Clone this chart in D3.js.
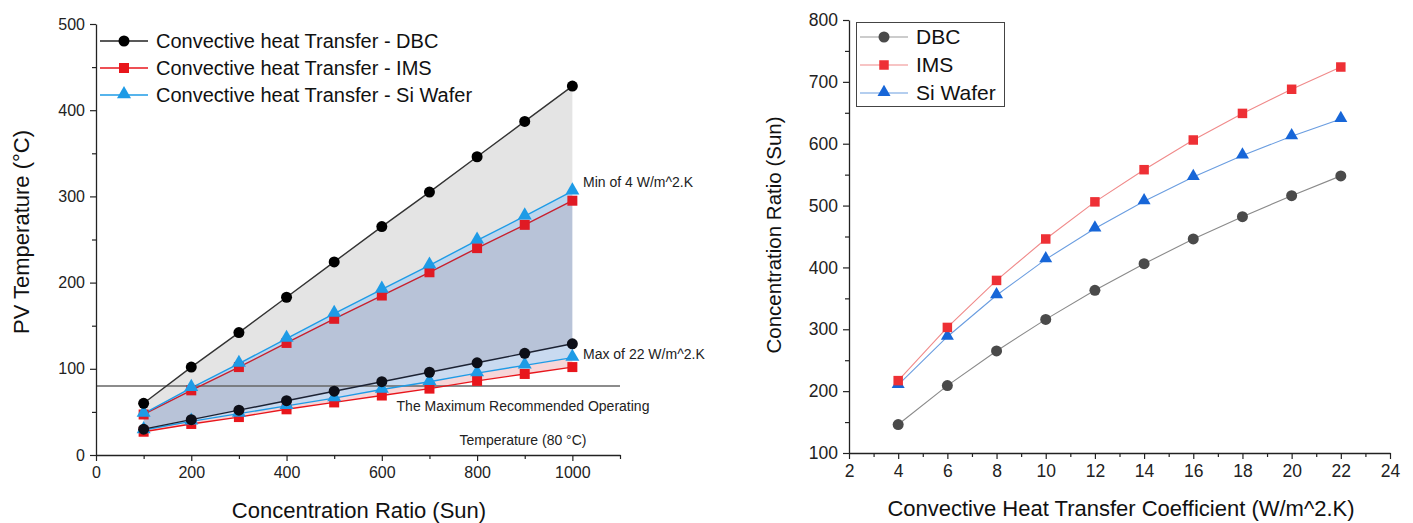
<!DOCTYPE html>
<html>
<head>
<meta charset="utf-8">
<script src="https://cdn.jsdelivr.net/npm/d3@7"></script>
<style>
  html, body { margin: 0; padding: 0; background: #fff; }
  svg { display: block; font-family: "Liberation Sans", Arial, sans-serif; }
  .narrow { font-family: "Liberation Sans Narrow", "Arial Narrow", "Liberation Sans", sans-serif; }
</style>
</head>
<body>
<svg id="chart" width="1413" height="523"></svg>
<script>
// ---- Left panel: PV temperature vs concentration ratio ----
const concentration = [100, 200, 300, 400, 500, 600, 700, 800, 900, 1000];
// h = 4 W/m^2.K (upper group)
const dbcMin = [60, 102, 142, 183, 224, 265, 305, 346, 387, 428];
const imsMin = [47, 75, 102, 130, 158, 185, 212, 240, 267, 295];
const siMin  = [48, 78, 106, 135, 164, 192, 220, 249, 277, 306];
// h = 22 W/m^2.K (lower group)
const dbcMax = [30, 41, 52, 63, 74, 85, 96, 107, 118, 129];
const imsMax = [27, 36, 44, 53, 61, 69, 77, 86, 94, 102];
const siMax  = [29, 39, 48, 57, 66, 76, 85, 95, 104, 113];
const limitTemp = 80;
const leftXTicks = [0, 200, 400, 600, 800, 1000];
const leftYTicks = [0, 100, 200, 300, 400, 500];
const leftLegend = ["Convective heat Transfer - DBC", "Convective heat Transfer - IMS", "Convective heat Transfer - Si Wafer"];

// ---- Right panel: concentration ratio vs convective coefficient ----
const coefficient = [4, 6, 8, 10, 12, 14, 16, 18, 20, 22];
const crDBC = [146, 209, 265, 316, 363, 406, 446, 482, 516, 548];
const crIMS = [217, 303, 379, 446, 506, 558, 606, 649, 688, 724];
const crSi  = [210, 288, 355, 413, 463, 507, 546, 581, 612, 640];
const rightXTicks = [2, 4, 6, 8, 10, 12, 14, 16, 18, 20, 22, 24];
const rightYTicks = [100, 200, 300, 400, 500, 600, 700, 800];
const rightLegend = ["DBC", "IMS", "Si Wafer"];

const svg = d3.select("#chart");

// symbol helper: size is the marker's width in px
function marker(g, shape, x, y, size, fill) {
  const type = shape === "circle" ? d3.symbolCircle : shape === "square" ? d3.symbolSquare : d3.symbolTriangle;
  const area = shape === "circle" ? 0.785 : shape === "triangle" ? 0.433 : 1;
  const dy = shape === "triangle" ? -size * 0.06 : 0;
  g.append("path")
    .attr("d", d3.symbol().type(type).size(size * size * area)())
    .attr("transform", `translate(${x},${y + dy})`)
    .attr("fill", fill);
}

function drawAxes(g, x, y, xMajor, xMinor, yMajor, yMinor, fontSize) {
  const [x0] = x.range();
  const [y0] = y.range();
  const fmt = d3.format("d");
  const xa = g.append("g").attr("transform", `translate(0,${y0})`)
    .call(d3.axisBottom(x).tickValues(xMajor).tickFormat(fmt).tickSize(6).tickSizeOuter(0).tickPadding(6));
  g.append("g").attr("transform", `translate(0,${y0})`)
    .call(d3.axisBottom(x).tickValues(xMinor).tickSize(4).tickSizeOuter(0).tickFormat(""))
    .call(s => s.select(".domain").remove());
  const ya = g.append("g").attr("transform", `translate(${x0},0)`)
    .call(d3.axisLeft(y).tickValues(yMajor).tickFormat(fmt).tickSize(6).tickSizeOuter(0).tickPadding(5));
  g.append("g").attr("transform", `translate(${x0},0)`)
    .call(d3.axisLeft(y).tickValues(yMinor).tickSize(4).tickSizeOuter(0).tickFormat(""))
    .call(s => s.select(".domain").remove());
  [xa, ya].forEach(a => {
    a.selectAll("text").attr("font-size", fontSize).attr("fill", "#222").attr("font-family", "Liberation Sans, Arial, sans-serif");
  });
  g.selectAll(".domain").attr("stroke", "#222").attr("stroke-width", 1.3);
  g.selectAll(".tick line").attr("stroke", "#222").attr("stroke-width", 1.2);
}

// ================= Left panel =================
{
  const g = svg.append("g");
  const x = d3.scaleLinear().domain([0, 1100]).range([96, 620]);
  const y = d3.scaleLinear().domain([0, 500]).range([455, 24]);

  const band = (top, bottom, fill) => {
    const area = d3.area()
      .x((d, i) => x(concentration[i]))
      .y0((d, i) => y(bottom[i]))
      .y1((d, i) => y(top[i]));
    g.append("path").datum(top).attr("d", area).attr("fill", fill);
  };
  band(dbcMin, siMin, "#e4e4e4");
  band(siMin, imsMin, "#bcd6ee");
  band(imsMin, dbcMax, "#b8c3d8");
  band(dbcMax, siMax, "#c9daf0");
  band(siMax, imsMax, "#f7d6d8");

  // 80 °C limit line
  g.append("line")
    .attr("x1", x(0)).attr("x2", x(1100))
    .attr("y1", y(limitTemp)).attr("y2", y(limitTemp))
    .attr("stroke", "#666").attr("stroke-width", 1.5);

  drawAxes(g, x, y, leftXTicks, [100, 300, 500, 700, 900, 1100], leftYTicks, [50, 150, 250, 350, 450], 16);

  const line = d3.line().x((d, i) => x(concentration[i])).y(d => y(d));
  const series = [
    { v: imsMax, color: "#e8161c", mfill: "#e8161c", shape: "square" },
    { v: siMax, color: "#1e9be6", mfill: "#1e9be6", shape: "triangle" },
    { v: dbcMax, color: "#1c2233", mfill: "#0d0f18", shape: "circle" },
    { v: imsMin, color: "#c8202e", mfill: "#e01a24", shape: "square" },
    { v: siMin, color: "#1e9be6", mfill: "#1e9be6", shape: "triangle" },
    { v: dbcMin, color: "#333333", mfill: "#000000", shape: "circle" }
  ];
  series.forEach(s => {
    g.append("path").datum(s.v).attr("d", line).attr("fill", "none")
      .attr("stroke", s.color).attr("stroke-width", 1.4);
  });
  series.forEach(s => {
    s.v.forEach((d, i) => marker(g, s.shape, x(concentration[i]), y(d), s.shape === "circle" ? 11 : s.shape === "square" ? 10 : 14, s.mfill));
  });

  // legend
  const leg = [
    { c: "#222", f: "#000", shape: "circle" },
    { c: "#e8161c", f: "#e8161c", shape: "square" },
    { c: "#1e9be6", f: "#1e9be6", shape: "triangle" }
  ];
  leg.forEach((l, i) => {
    const yy = 41 + i * 27;
    g.append("line").attr("x1", 100).attr("x2", 148).attr("y1", yy).attr("y2", yy)
      .attr("stroke", l.c).attr("stroke-width", 1.4);
    marker(g, l.shape, 124, yy, l.shape === "circle" ? 11 : l.shape === "square" ? 10 : 14, l.f);
    g.append("text").attr("x", 156).attr("y", yy + 7).attr("font-size", 20).attr("fill", "#111")
      .text(leftLegend[i]);
  });

  // annotations
  g.append("text").attr("class", "narrow").attr("x", 583).attr("y", 187).attr("font-size", 14).attr("fill", "#222")
    .text("Min of 4 W/m^2.K");
  g.append("text").attr("class", "narrow").attr("x", 583).attr("y", 359).attr("font-size", 14).attr("fill", "#222")
    .text("Max of 22 W/m^2.K");
  g.append("text").attr("class", "narrow").attr("x", 523).attr("y", 411).attr("text-anchor", "middle")
    .attr("font-size", 14).attr("fill", "#222").text("The Maximum Recommended Operating");
  g.append("text").attr("class", "narrow").attr("x", 523).attr("y", 445).attr("text-anchor", "middle")
    .attr("font-size", 14).attr("fill", "#222").text("Temperature (80 °C)");

  // axis titles
  g.append("text").attr("x", 359).attr("y", 518).attr("text-anchor", "middle").attr("font-size", 22).attr("fill", "#111")
    .text("Concentration Ratio (Sun)");
  g.append("text").attr("transform", "translate(29,232) rotate(-90)").attr("text-anchor", "middle")
    .attr("font-size", 22).attr("fill", "#111").text("PV Temperature (°C)");
}

// ================= Right panel =================
{
  const g = svg.append("g");
  const x = d3.scaleLinear().domain([2, 24]).range([849, 1390]);
  const y = d3.scaleLinear().domain([100, 800]).range([453, 20]);

  drawAxes(g, x, y, rightXTicks, [3, 5, 7, 9, 11, 13, 15, 17, 19, 21, 23], rightYTicks, [150, 250, 350, 450, 550, 650, 750], 17.5);

  const line = d3.line().x((d, i) => x(coefficient[i])).y(d => y(d));
  const series = [
    { v: crDBC, color: "#8a8a8a", mfill: "#4a4a4a", shape: "circle" },
    { v: crSi, color: "#6a9de0", mfill: "#1766d8", shape: "triangle" },
    { v: crIMS, color: "#f08a8a", mfill: "#ee3035", shape: "square" }
  ];
  series.forEach(s => {
    g.append("path").datum(s.v).attr("d", line).attr("fill", "none")
      .attr("stroke", s.color).attr("stroke-width", 1.1);
  });
  series.forEach(s => {
    s.v.forEach((d, i) => marker(g, s.shape, x(coefficient[i]), y(d), s.shape === "circle" ? 11 : s.shape === "square" ? 9.5 : 13, s.mfill));
  });

  // legend box
  g.append("rect").attr("x", 856.5).attr("y", 22.5).attr("width", 148).attr("height", 84)
    .attr("fill", "#fff").attr("stroke", "#444").attr("stroke-width", 1);
  const leg = [
    { c: "#9a9a9a", f: "#4a4a4a", shape: "circle" },
    { c: "#f08a8a", f: "#ee3035", shape: "square" },
    { c: "#6a9de0", f: "#1766d8", shape: "triangle" }
  ];
  leg.forEach((l, i) => {
    const yy = 37 + i * 28;
    g.append("line").attr("x1", 860).attr("x2", 908).attr("y1", yy).attr("y2", yy)
      .attr("stroke", l.c).attr("stroke-width", 1.1);
    marker(g, l.shape, 884, yy, l.shape === "circle" ? 11 : l.shape === "square" ? 9.5 : 13, l.f);
    g.append("text").attr("x", 916).attr("y", yy + 7).attr("font-size", 21).attr("fill", "#111")
      .text(rightLegend[i]);
  });

  g.append("text").attr("x", 1121).attr("y", 516).attr("text-anchor", "middle").attr("font-size", 22).attr("fill", "#111")
    .text("Convective Heat Transfer Coefficient (W/m^2.K)");
  g.append("text").attr("transform", "translate(781,235) rotate(-90)").attr("text-anchor", "middle")
    .attr("font-size", 20.5).attr("fill", "#111").text("Concentration Ratio (Sun)");
}
</script>
</body>
</html>
